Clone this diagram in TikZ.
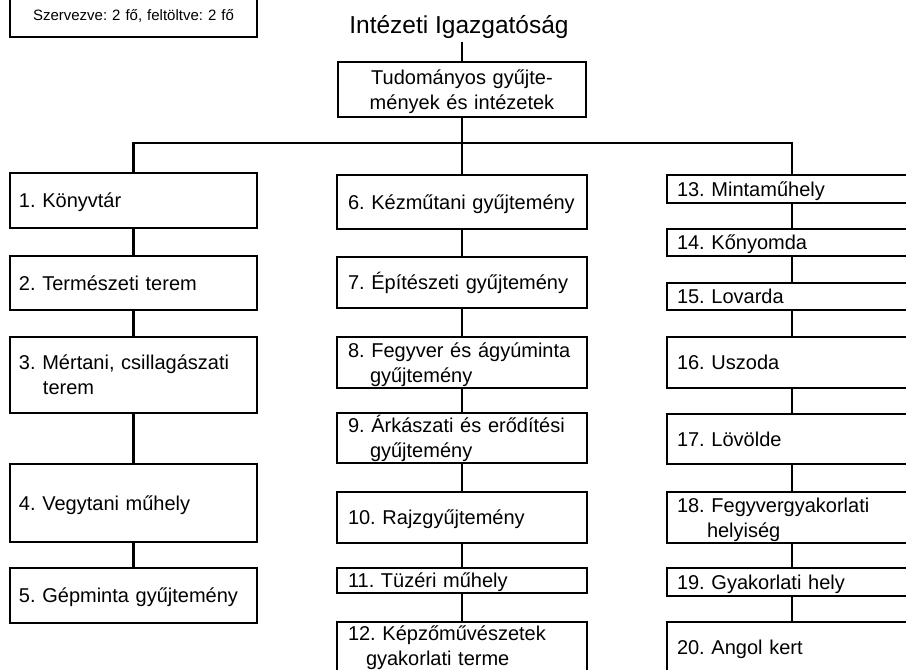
\documentclass[tikz,border=0pt]{standalone}
\usepackage{fontspec}
\setmainfont{Liberation Sans}
\frenchspacing

\tikzset{
  box/.style={shape=rectangle, draw=black, line width=2.4pt, inner xsep=9pt, inner ysep=0pt,
    align=left, font=\fontsize{20}{25}\selectfont, text height=14pt, text depth=0pt},
  two/.style={text depth=25pt},
  lcol/.style={box, minimum width=247pt, text width=229pt},
  mcol/.style={box, minimum width=250pt, text width=228pt},
  rcol/.style={box, minimum width=250pt, text width=230pt},
  conn/.style={line width=2.4pt}
}

\begin{document}
\begin{tikzpicture}[x=1pt, y=-1pt]
	    \clip (0,0) rectangle (906,670);

	    \node[box, minimum width=247pt, minimum height=45pt, text width=229pt, align=center,
	      font=\fontsize{15}{18}\selectfont, text height=11pt] (staff) at (133.5,14.5) {Szervezve: 2 fő, feltöltve: 2 fő};
	    \node[font=\fontsize{24.5}{29}\selectfont, anchor=base] (title) at (459,33) {Intézeti Igazgatóság};
	    \node[box, two, minimum width=248pt, minimum height=55pt, text width=230pt, align=center] (top) at (462,89.5) {Tudományos gyűjte-\\mények és intézetek};

	    % left column
	    \node[lcol, minimum height=55pt] (b1) at (133.5,200.5) {1. Könyvtár};
	    \node[lcol, minimum height=54pt] (b2) at (133.5,283) {2. Természeti terem};
	    \node[lcol, two, minimum height=76pt] (b3) at (133.5,375) {3. Mértani, csillagászati\\\hspace*{24pt}terem};
	    \node[lcol, minimum height=78pt] (b4) at (133.5,503) {4. Vegytani műhely};
	    \node[lcol, minimum height=55pt] (b5) at (133.5,595.5) {5. Gépminta gyűjtemény};

	    % middle column
	    \node[mcol, minimum height=54pt] (b6) at (462,202) {6. Kézműtani gyűjtemény};
	    \node[mcol, minimum height=51pt] (b7) at (462,282.5) {7. Építészeti gyűjtemény};
	    \node[mcol, two, minimum height=51pt] (b8) at (462,362.5) {8. Fegyver és ágyúminta\\\hspace*{22pt}gyűjtemény};
	    \node[mcol, two, minimum height=50pt] (b9) at (462,438) {9. Árkászati és erődítési\\\hspace*{22pt}gyűjtemény};
	    \node[mcol, minimum height=51pt] (b10) at (462,517.5) {10. Rajzgyűjtemény};
	    \node[mcol, minimum height=25pt] (b11) at (462,580.5) {11. Tüzéri műhely};
	    \node[mcol, two, text depth=31pt, minimum height=53pt] (b12) at (462,648.5) {12. Képzőművészetek\\\hspace*{18pt}gyakorlati terme};

	    % right column
	    \node[rcol, minimum height=28pt] (b13) at (792,189) {13. Mintaműhely};
	    \node[rcol, minimum height=27pt] (b14) at (792,242.5) {14. Kőnyomda};
	    \node[rcol, minimum height=27pt] (b15) at (792,296.5) {15. Lovarda};
	    \node[rcol, minimum height=51pt] (b16) at (792,362.5) {16. Uszoda};
	    \node[rcol, minimum height=50pt] (b17) at (792,439) {17. Lövölde};
	    \node[rcol, two, minimum height=51pt] (b18) at (792,517.5) {18. Fegyvergyakorlati\\\hspace*{30pt}helyiség};
	    \node[rcol, minimum height=28pt] (b19) at (792,582) {19. Gyakorlati hely};
	    \node[rcol, minimum height=50pt] (b20) at (792,647) {20. Angol kert};

	    \coordinate (bar) at (462,143);
	    \draw[conn] (title.south -| top.north) -- (top.north);
	    \draw[conn] (top) -- (b6);
	    \draw[conn] (b1.north) |- (bar) -| (b13.north);

	    \path[conn] (b1) edge (b2);
	    \path[conn] (b2) edge (b3);
	    \path[conn] (b3) edge (b4);
	    \path[conn] (b4) edge (b5);
	    \path[conn] (b6) edge (b7);
	    \path[conn] (b7) edge (b8);
	    \path[conn] (b8) edge (b9);
	    \path[conn] (b9) edge (b10);
	    \path[conn] (b10) edge (b11);
	    \path[conn] (b11) edge (b12);
	    \path[conn] (b13) edge (b14);
	    \path[conn] (b14) edge (b15);
	    \path[conn] (b15) edge (b16);
	    \path[conn] (b16) edge (b17);
	    \path[conn] (b17) edge (b18);
	    \path[conn] (b18) edge (b19);
	    \path[conn] (b19) edge (b20);
\end{tikzpicture}
\end{document}
